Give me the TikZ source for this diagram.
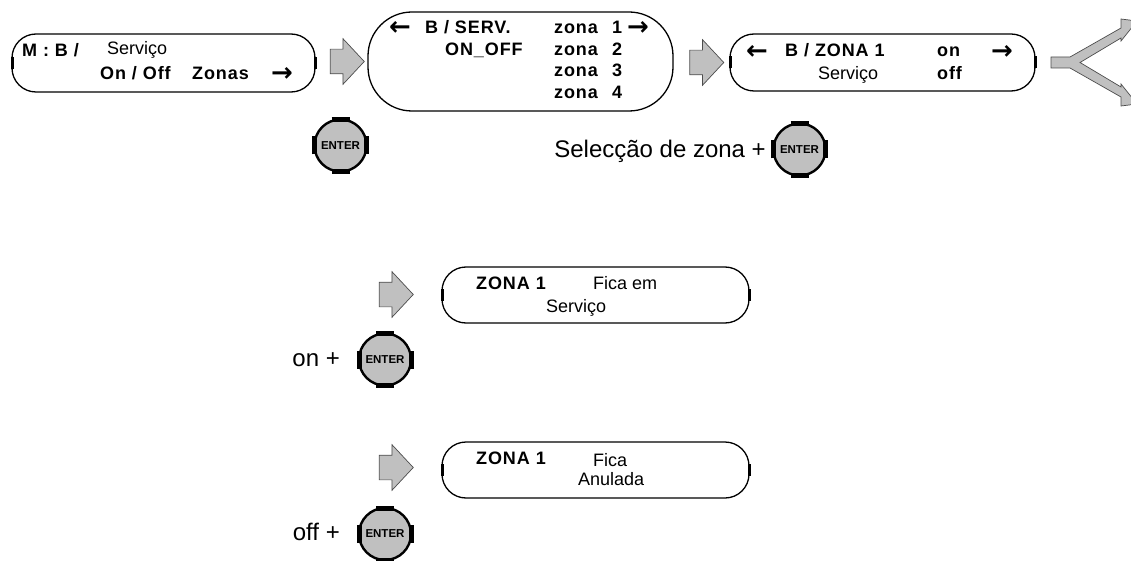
\documentclass[tikz,border=0pt]{standalone}
\usepackage{fontspec}
\setmainfont{Liberation Sans}
\newfontfamily\lcdfont{Liberation Sans}[LetterSpace=5]
\newfontfamily\arrowfont{DejaVu Sans}
\usetikzlibrary{shapes.arrows}
\definecolor{keygray}{RGB}{192,192,192}

\begin{document}
\begin{tikzpicture}[x=1pt, y=-1pt,
  lcd/.style={draw, line width=1.3pt, rounded corners=24pt, inner sep=0pt, outer sep=0pt},
  keyarrow/.style={single arrow, draw=black!70, line width=0.7pt, fill=keygray, inner xsep=0pt, inner ysep=12pt,
    minimum height=34pt, single arrow head extend=10.5pt, single arrow tip angle=94},
  enterkey/.style={circle, draw, line width=2.4pt, fill=keygray, minimum size=52pt, inner sep=0pt,
    outer sep=0pt, font=\bfseries\fontsize{11.5}{11.5}\selectfont},
  tick/.style={line width=3pt},
  tab/.style={line width=5pt},
  bt/.style={font=\lcdfont\bfseries\fontsize{18}{18}\selectfont, inner sep=0pt, anchor=base west},
  rt/.style={font=\fontsize{18}{18}\selectfont, inner sep=0pt, anchor=base west},
  arr/.style={font=\arrowfont\bfseries\fontsize{26}{26}\selectfont, inner sep=0pt},
  lbl/.style={font=\fontsize{24}{24}\selectfont, inner sep=0pt, anchor=base east}]

\useasboundingbox (0,0) rectangle (1131,561);

% --- display boxes ---
\node[lcd, minimum width=303pt, minimum height=58pt] (b1) at (163.5,63) {};
\node[lcd, minimum width=305pt, minimum height=99pt, rounded corners=44pt] (b2) at (520.5,61.5) {};
\node[lcd, minimum width=305pt, minimum height=57pt] (b3) at (882.5,62.5) {};
\node[lcd, minimum width=307pt, minimum height=56pt] (b4) at (595.5,295) {};
\node[lcd, minimum width=307pt, minimum height=56pt] (b5) at (595.5,470) {};

% small marks at the ends of the boxes
\foreach \b in {b1,b3,b4,b5} {
  \draw[tick] ([yshift=-6pt]\b.west) -- ([yshift=6pt]\b.west);
  \draw[tick] ([yshift=-6pt]\b.east) -- ([yshift=6pt]\b.east);
}

% box 1
\node[bt] (t1) at (22,57) {M : B /};
\node[rt] (t2) at (107,55) {Serviço};
\node[bt] (t3) at (100,80) {On / Off};
\node[bt] (t4) at (192,80) {Zonas};
\node[arr] (r1) at (282,74) {→};

% box 2
\node[arr] (r2) at (400,28) {←};
\node[bt] (t5) at (425,34) {B / SERV.};
\node[bt] (t6) at (445,56) {ON\_OFF};
\foreach \n/\y in {1/34, 2/56, 3/77, 4/99} {
  \node[bt] (z\n) at (554,\y) {zona};
  \node[bt] (d\n) at (612,\y) {\n};
}
\node[arr] (r3) at (638,28) {→};

% box 3
\node[arr] (r4) at (757,52) {←};
\node[bt] (t7) at (785,57) {B / ZONA 1};
\node[bt] (t8) at (937,57) {on};
\node[arr] (r5) at (1002,52) {→};
\node[rt] (t9) at (818,80) {Serviço};
\node[bt] (t10) at (937,80) {off};

% box 4 and 5
\node[bt] (t11) at (476,289) {ZONA 1};
\node[rt] (t12) at (593,289) {Fica em};
\node[rt] (t13) at (546,312) {Serviço};
\node[bt] (t14) at (476,464) {ZONA 1};
\node[rt] (t15) at (593,466) {Fica};
\node[rt] (t16) at (578,485) {Anulada};

% --- block arrows ---
\node[keyarrow] (a1) at (341.5,61.5) {};
\node[keyarrow] (a2) at (701,62.5) {};
\node[keyarrow] (a3) at (390.5,294.5) {};
\node[keyarrow] (a4) at (390.5,467.5) {};

% fork arrow at the right edge
\filldraw[fill=keygray, draw=black!70, line width=0.7pt]
  (1051,57) -- (1070,57) -- (1121,28) -- (1121,19) -- (1137,21) -- (1121,41) -- (1121,38)
  -- (1080,62.5) -- (1121,87) -- (1121,84) -- (1137,104) -- (1121,106) -- (1121,97)
  -- (1070,68) -- (1051,68) -- cycle;

% --- ENTER keys ---
\node[enterkey] (e1) at (340.5,145.5) {ENTER};
\node[enterkey] (e2) at (799.5,149.5) {ENTER};
\node[enterkey] (e3) at (385,359.5) {ENTER};
\node[enterkey] (e4) at (385,534) {ENTER};

\foreach \k in {e1,e2,e3,e4} {
  \draw[tab] ([xshift=-9pt]\k.north) -- ([xshift=9pt]\k.north);
  \draw[tab] ([xshift=-9pt]\k.south) -- ([xshift=9pt]\k.south);
  \draw[tab] ([yshift=-9pt]\k.west) -- ([yshift=9pt]\k.west);
  \draw[tab] ([yshift=-9pt]\k.east) -- ([yshift=9pt]\k.east);
}

% labels
\node[lbl] (l2) at (766,158) {Selecção de zona +};
\node[lbl] (l3) at (340,366) {on +};
\node[lbl] (l4) at (340,540) {off +};

\end{tikzpicture}
\end{document}
